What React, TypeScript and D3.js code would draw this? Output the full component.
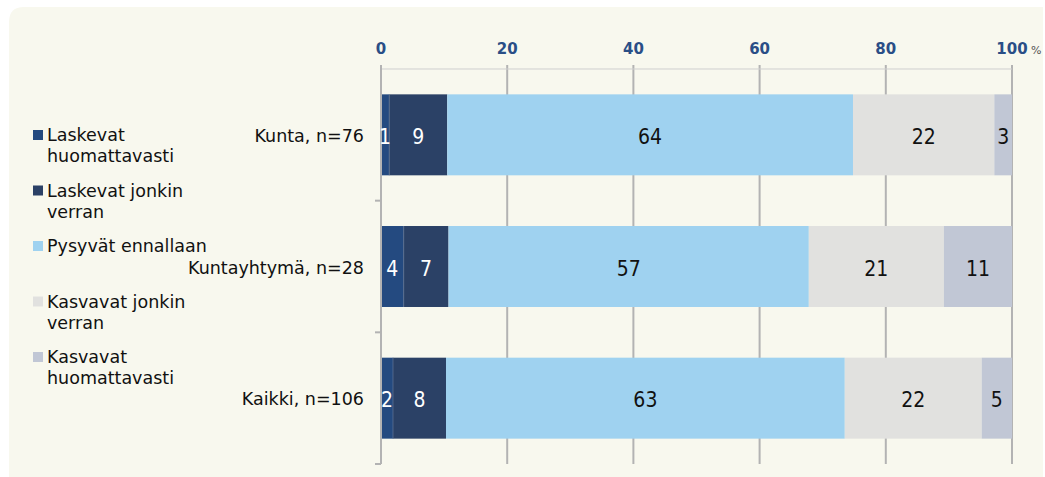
import React from "react";
import * as d3 from "d3";

const categories = ["Kunta, n=76", "Kuntayhtymä, n=28", "Kaikki, n=106"];
const seriesNames = [
  ["Laskevat", "huomattavasti"],
  ["Laskevat jonkin", "verran"],
  ["Pysyvät ennallaan"],
  ["Kasvavat jonkin", "verran"],
  ["Kasvavat", "huomattavasti"],
];
const seriesColors = ["#244a80", "#2b4166", "#9fd2f0", "#e1e1df", "#c1c7d5"];
const labelColors = ["#ffffff", "#ffffff", "#111111", "#111111", "#111111"];
// values per category (percent)
const kunta = [1.3, 9.2, 64.3, 22.4, 2.8];
const kuntayhtyma = [3.6, 7.1, 57.1, 21.4, 10.8];
const kaikki = [1.9, 8.4, 63.2, 21.7, 4.8];
const values = [kunta, kuntayhtyma, kaikki];
const ticks = [0, 20, 40, 60, 80, 100];

const W = 1045;
const H = 477;
const left = 381;
const right = 1012;
const top = 69;
const bottom = 464;
const font = "'DejaVu Sans', Verdana, sans-serif";
const axisColor = "#b3b3b3";

export default function App() {
  const x = d3.scaleLinear().domain([0, 100]).range([left, right]);
  const y = d3.scaleBand<string>().domain(categories).range([top, bottom]).paddingInner(0.385).paddingOuter(0.1925);
  const yb = d3.scaleBand<string>().domain(categories).range([top, bottom]);

  const stacks = values.map((vals) => {
    let acc = 0;
    return vals.map((v) => {
      const s = acc;
      acc += v;
      return [s, acc];
    });
  });

  const legendStart = 141;
  const legendStep = 55.5;

  return (
    <div style={{ position: "absolute", left: 0, top: 0 }}>
      <svg width={W} height={H} style={{ display: "block" }}>
        <rect x={0} y={0} width={W} height={H} fill="#ffffff" />
        <path
          d={`M9,${H + 10} L9,22 Q9,7 24,7 L1043,7 L1043,${H + 10} Z`}
          fill="#f8f8ee"
        />
        {/* gridlines */}
        {ticks.slice(1).map((t) => (
          <line key={t} x1={x(t)} x2={x(t)} y1={top - 4} y2={bottom} stroke={axisColor} strokeWidth={2} />
        ))}
        {/* top axis line */}
        <line x1={left} x2={right} y1={top} y2={top} stroke="#cfcfcf" strokeWidth={1} />
        {/* bars */}
        {categories.map((c, ci) =>
          stacks[ci].map(([s, e], si) => (
            <rect
              key={c + si}
              x={x(s)}
              y={y(c)}
              width={x(e) - x(s)}
              height={y.bandwidth()}
              fill={seriesColors[si]}
            />
          ))
        )}
        {/* bar separators between dark segments */}
        {categories.map((c, ci) => (
          <line
            key={"sep" + c}
            x1={x(stacks[ci][0][1])}
            x2={x(stacks[ci][0][1])}
            y1={y(c)}
            y2={(y(c) as number) + y.bandwidth()}
            stroke="#5b7090"
            strokeWidth={0.8}
          />
        ))}
        {/* left axis */}
        <line x1={left} x2={left} y1={top - 4} y2={bottom} stroke={axisColor} strokeWidth={2} />
        {categories.map((c) => (
          <line
            key={"lt" + c}
            x1={left - 6}
            x2={left}
            y1={(yb(c) as number) + yb.bandwidth()}
            y2={(yb(c) as number) + yb.bandwidth()}
            stroke={axisColor}
            strokeWidth={2}
          />
        ))}
        {/* bar labels */}
        {categories.map((c, ci) =>
          stacks[ci].map(([s, e], si) => (
            <text
              key={"l" + c + si}
              x={(x(s) + x(e)) / 2}
              y={(y(c) as number) + y.bandwidth() / 2 + 9}
              textAnchor="middle"
              fontFamily="'DejaVu Sans Condensed', 'DejaVu Sans', sans-serif"
              fontStretch="condensed"
              fontSize={21}
              fill={labelColors[si]}
            >
              {Math.round(values[ci][si])}
            </text>
          ))
        )}
        {/* category labels */}
        {categories.map((c) => (
          <text
            key={"c" + c}
            x={364}
            y={(yb(c) as number) + yb.bandwidth() / 2 + 7}
            textAnchor="end"
            fontFamily={font}
            fontSize={17.5}
            fill="#111111"
          >
            {c}
          </text>
        ))}
        {/* top tick labels */}
        {ticks.map((t) => (
          <text
            key={"t" + t}
            x={x(t)}
            y={54}
            textAnchor="middle"
            fontFamily={font}
            fontWeight="bold"
            fontSize={15}
            fill="#2a4e86"
          >
            {t}
          </text>
        ))}
        <text x={1031} y={54} fontFamily={font} fontSize={11} fill="#555555">
          %
        </text>
        {/* legend */}
        {seriesNames.map((lines, i) => (
          <g key={"lg" + i} transform={`translate(0,${legendStart + i * legendStep})`}>
            <rect x={33} y={-11} width={10} height={10} fill={seriesColors[i]} />
            {lines.map((ln, li) => (
              <text key={li} x={47} y={li * 21} fontFamily={font} fontSize={17.5} fill="#111111">
                {ln}
              </text>
            ))}
          </g>
        ))}
      </svg>
    </div>
  );
}
